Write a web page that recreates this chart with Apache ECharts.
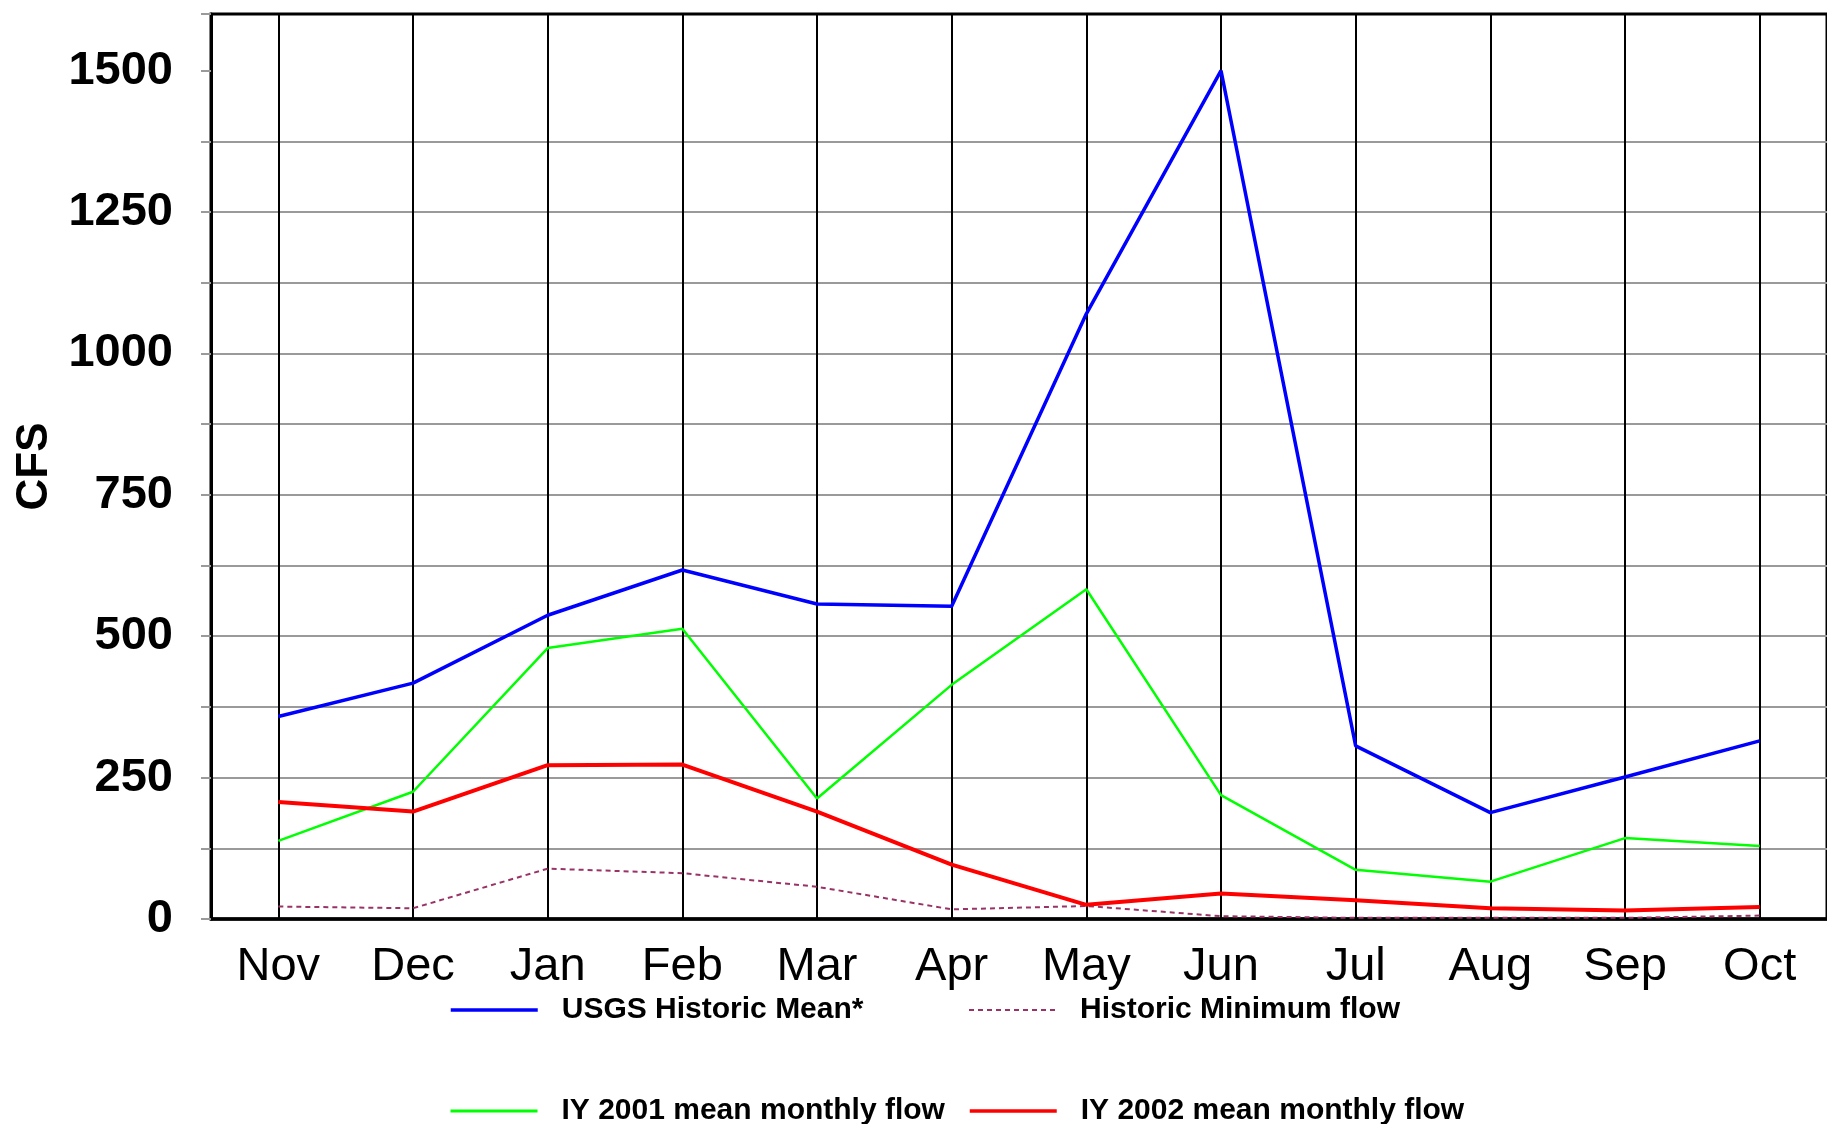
<!DOCTYPE html>
<html>
<head>
<meta charset="utf-8">
<title>Monthly flow</title>
<script src="https://cdn.jsdelivr.net/npm/echarts@6/dist/echarts.min.js"></script>
<style>
  html, body { margin: 0; padding: 0; background: #fff; }
  #chart { width: 1827px; height: 1124px; }
</style>
</head>
<body>
<div id="chart"></div>
<script>
const fontFamily = '"Liberation Sans", Arial, Helvetica, sans-serif'

// data
const months = ['Nov', 'Dec', 'Jan', 'Feb', 'Mar', 'Apr', 'May', 'Jun', 'Jul', 'Aug', 'Sep', 'Oct']
const historicMean = [358, 417, 537, 617, 557, 553, 1070, 1500, 306, 188, 251, 315]
const historicMin = [22, 19, 89, 81, 57, 17, 23, 5, 2, 2, 2, 6]
const iy2001 = [138, 225, 479, 513, 213, 414, 583, 219, 87, 66, 143, 129]
const iy2002 = [207, 190, 272, 273, 190, 96, 25, 45, 33, 19, 15, 21]
const yTicks = [0, 250, 500, 750, 1000, 1250, 1500]

const names = {
  mean: 'USGS Historic Mean*',
  min: 'Historic Minimum flow',
  y2001: 'IY 2001 mean monthly flow',
  y2002: 'IY 2002 mean monthly flow'
}

const gridGrey = '#9a9a9a'
const clear = 'rgba(0,0,0,0)'
// one colour per horizontal grid line (0,125,...,1500, then 1600 at the top)
// 1500 has no line in the original, 1600 is the frame
const splitColors = []
for (let v = 0; v <= 1600; v += 125) {
  splitColors.push(v === 1500 ? clear : gridGrey)
}
splitColors.push(clear)

const legendText = {
  fontSize: 30,
  fontWeight: 'bold',
  fontFamily,
  color: '#000',
  lineHeight: 36,
  padding: [0, 0, 0, 19]
}
function legendAt(name, left, top, width) {
  return {
    data: [name],
    left,
    top,
    padding: 0,
    itemWidth: 87,
    itemHeight: 14,
    itemStyle: { opacity: 0 }, // hide the dot, keep the line sample
    lineStyle: { width },
    textStyle: legendText,
    selectedMode: false
  }
}

function lineSeries(name, data, color, width, type) {
  return {
    name,
    type: 'line',
    data,
    symbol: 'none',
    showSymbol: false,
    z: 3,
    lineStyle: { color, width, type: type || 'solid' },
    itemStyle: { color }
  }
}

const chart = echarts.init(document.getElementById('chart'))
chart.setOption({
  animation: false,
  backgroundColor: '#fff',
  grid: {
    left: 211,
    top: 14,
    right: -6,
    bottom: 205,
    show: true,
    borderColor: '#000',
    borderWidth: 3
  },
  legend: [
    legendAt(names.mean, 449, 992, 3.5),
    legendAt(names.min, 968, 992, 2),
    legendAt(names.y2001, 449, 1093, 3),
    legendAt(names.y2002, 968, 1093, 3.5)
  ],
  xAxis: {
    type: 'category',
    data: months,
    boundaryGap: true,
    axisLine: { lineStyle: { color: '#000', width: 3.5 } },
    axisTick: { alignWithLabel: true, length: 16, lineStyle: { color: '#000', width: 2 } },
    axisLabel: { fontSize: 47, fontFamily, color: '#000', margin: 25 },
    splitLine: { show: false }
  },
  yAxis: {
    type: 'value',
    min: 0,
    max: 1600,
    interval: 125,
    name: 'CFS',
    nameLocation: 'middle',
    nameGap: 154,
    nameTextStyle: { fontSize: 44, fontWeight: 'bold', fontFamily, color: '#000' },
    axisLine: { show: true, lineStyle: { color: '#000', width: 3 } },
    axisTick: { show: true, length: 10, lineStyle: { color: gridGrey, width: 2 } },
    axisLabel: {
      fontSize: 47,
      fontWeight: 'bold',
      fontFamily,
      color: '#000',
      margin: 38,
      formatter: v => (yTicks.indexOf(v) >= 0 ? String(v) : '')
    },
    splitLine: { show: true, lineStyle: { color: splitColors, width: 2 } }
  },
  series: [
    {
      // vertical month grid lines
      name: 'grid',
      type: 'line',
      data: [],
      silent: true,
      z: 1,
      markLine: {
        silent: true,
        z: 1,
        symbol: ['none', 'none'],
        label: { show: false },
        lineStyle: { color: '#000', width: 2, type: 'solid' },
        emphasis: { disabled: true },
        data: months.map(m => ({ xAxis: m }))
      }
    },
    lineSeries(names.mean, historicMean, '#0000ff', 3.5),
    lineSeries(names.min, historicMin, '#993366', 2, [5, 4]),
    lineSeries(names.y2001, iy2001, '#00ff00', 2.5),
    lineSeries(names.y2002, iy2002, '#ff0000', 4)
  ]
})
</script>
</body>
</html>
